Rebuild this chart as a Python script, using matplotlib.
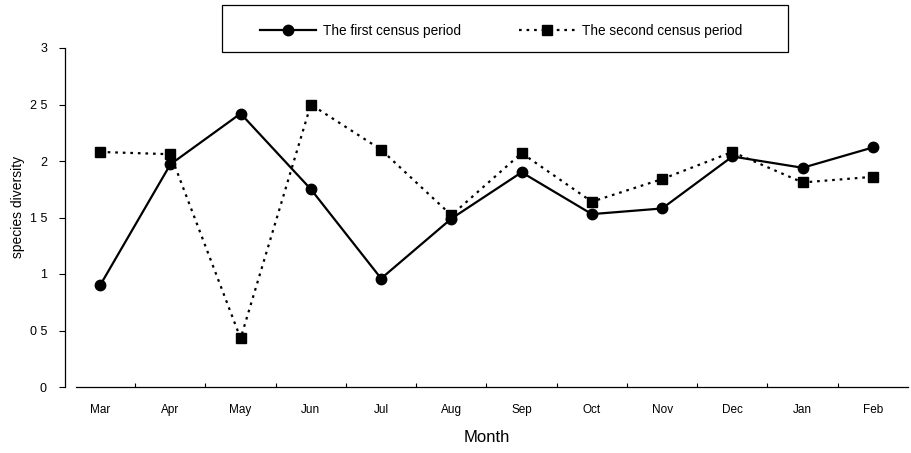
import matplotlib
matplotlib.use("Agg")
import matplotlib.pyplot as plt
from matplotlib.patches import Rectangle

months = ["Mar", "Apr", "May", "Jun", "Jul", "Aug", "Sep", "Oct", "Nov", "Dec", "Jan", "Feb"]
first_period = [0.90, 1.97, 2.42, 1.75, 0.96, 1.49, 1.90, 1.53, 1.58, 2.04, 1.94, 2.12]
second_period = [2.08, 2.06, 0.43, 2.50, 2.10, 1.52, 2.07, 1.64, 1.84, 2.08, 1.81, 1.86]
y_ticks = [0, 0.5, 1, 1.5, 2, 2.5, 3]
y_tick_labels = ["0", "0 5", "1", "1 5", "2", "2 5", "3"]

plt.rcParams['font.family'] = ['Liberation Sans', 'DejaVu Sans']

W, H = 912, 453
fig = plt.figure(figsize=(W/100, H/100), dpi=100)
ax = fig.add_axes([65/W, 1-387/H, (908-65)/W, (387-48)/H])

x = list(range(len(months)))
l1, = ax.plot(x, first_period, color='black', lw=1.6, marker='o', markersize=7.5,
              label='The first census period')
l2, = ax.plot(x, second_period, color='black', lw=1.6, linestyle=(0, (1.2, 2.2)),
              marker='s', markersize=7.5, label='The second census period')

ax.set_xlim(-0.5, 11.5)
ax.set_ylim(0, 3)
ax.set_xticks(x)
ax.set_xticklabels(months, fontsize=8.5)
ax.tick_params(axis='x', length=0, pad=12)
ax.set_xticks([i + 0.5 for i in range(11)], minor=True)
ax.tick_params(axis='x', which='minor', direction='in', length=3, width=0.8)
ax.set_yticks(y_ticks)
ax.set_yticklabels(y_tick_labels, fontsize=9)
ax.tick_params(axis='y', direction='out', length=4, width=0.8, pad=9)

ax.spines['top'].set_visible(False)
ax.spines['right'].set_visible(False)
ax.spines['left'].set_linewidth(0.9)
ax.spines['bottom'].set_linewidth(0.9)
ax.spines['bottom'].set_bounds(-0.34, 11.5)

ax.set_ylabel('species diversity', fontsize=10)
ax.yaxis.set_label_coords(-0.047, 0.53)
ax.set_xlabel('Month', fontsize=12, labelpad=10)

# legend frame
fig.patches.append(Rectangle((222/W, 1-52/H), (788-222)/W, 47/H, transform=fig.transFigure,
                             facecolor='white', edgecolor='black', lw=0.9, zorder=0))
leg = fig.legend(handles=[l1, l2], loc='center',
                 bbox_to_anchor=((222+788)/2/W - 0.004, 1-30.5/H),
                 ncol=2, fontsize=9.8, frameon=False,
                 handlelength=4.1, columnspacing=4.3, handletextpad=0.5)

fig.savefig('out.png', dpi=100)
